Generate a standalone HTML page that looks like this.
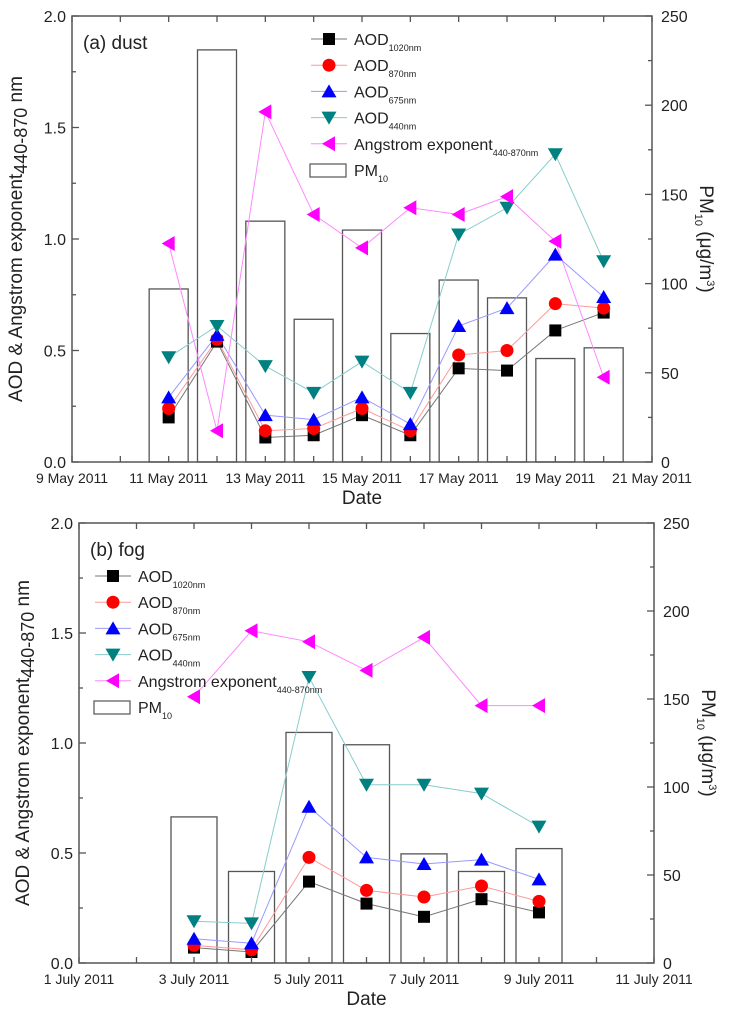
<!DOCTYPE html>
<html><head><meta charset="utf-8"><style>
body{margin:0;background:#fff;}
svg text{font-family:"Liberation Sans",Arial,sans-serif;fill:#222;}
</style></head><body>
<svg id="chart" width="730" height="1024" xmlns="http://www.w3.org/2000/svg"></svg>
<script>
// Panel (a) dust data
const dustDays = [11,12,13,14,15,16,17,18,19,20];
const dustAOD1020 = [0.20,0.54,0.11,0.12,0.21,0.12,0.42,0.41,0.59,0.67];
const dustAOD870 = [0.24,0.55,0.14,0.15,0.24,0.14,0.48,0.50,0.71,0.69];
const dustAOD675 = [0.29,0.57,0.21,0.19,0.29,0.17,0.61,0.69,0.93,0.74];
const dustAOD440 = [0.47,0.61,0.43,0.31,0.45,0.31,1.02,1.14,1.38,0.90];
const dustAngstrom = [0.98,0.14,1.57,1.11,0.96,1.14,1.11,1.19,0.99,0.38];
const dustPM10 = [97,231,135,80,130,72,102,92,58,64];
const dustTickLabels = ["9 May 2011","11 May 2011","13 May 2011","15 May 2011","17 May 2011","19 May 2011","21 May 2011"];
// Panel (b) fog data
const fogDays = [3,4,5,6,7,8,9];
const fogAOD1020 = [0.07,0.05,0.37,0.27,0.21,0.29,0.23];
const fogAOD870 = [0.08,0.06,0.48,0.33,0.30,0.35,0.28];
const fogAOD675 = [0.11,0.09,0.71,0.48,0.45,0.47,0.38];
const fogAOD440 = [0.19,0.18,1.30,0.81,0.81,0.77,0.62];
const fogAngstrom = [1.21,1.51,1.46,1.33,1.48,1.17,1.17];
const fogPM10 = [83,52,131,124,62,52,65];
const fogTickLabels = ["1 July 2011","3 July 2011","5 July 2011","7 July 2011","9 July 2011","11 July 2011"];
const leftTicks = ["0.0","0.5","1.0","1.5","2.0"];
const rightTicks = ["0","50","100","150","200","250"];

const NS="http://www.w3.org/2000/svg";
const svg=document.getElementById('chart');
function mk(tag,attrs,parent){const e=document.createElementNS(NS,tag);for(const k in attrs)e.setAttribute(k,attrs[k]);(parent||svg).appendChild(e);return e;}

function marker(g,type,x,y,color){
  const s=6;
  let e;
  if(type==='sq') e=mk('rect',{x:x-s,y:y-s,width:2*s,height:2*s,fill:color},g);
  else if(type==='ci') e=mk('circle',{cx:x,cy:y,r:6.5,fill:color},g);
  else if(type==='up') e=mk('polygon',{points:`${x},${y-7} ${x-7.5},${y+6} ${x+7.5},${y+6}`,fill:color},g);
  else if(type==='dn') e=mk('polygon',{points:`${x},${y+7} ${x-7.5},${y-6} ${x+7.5},${y-6}`,fill:color},g);
  else e=mk('polygon',{points:`${x-7},${y} ${x+6},${y-7.5} ${x+6},${y+7.5}`,fill:color},g);
  return e;
}

function panel(p){
  const {x0,x1,y0,y1,d0,d1,days,series,pm,ticks,barW,name,title,legend}=p;
  const g=mk('g',{});
  
  
  const X=d=>x0+(d-d0)/(d1-d0)*(x1-x0);
  const Y=v=>y1-v/2*(y1-y0);
  const YR=v=>y1-v/250*(y1-y0);
  pm.forEach((v,i)=>{
    const b=mk('rect',{x:X(days[i])-barW/2,y:YR(v),width:barW,height:y1-YR(v),fill:'none',stroke:'#555','stroke-width':1.3},g);
    
    
  });
  series.forEach(s=>{
    const pts=s.vals.map((v,i)=>X(days[i])+','+Y(v)).join(' ');
    const l=mk('polyline',{points:pts,fill:'none',stroke:s.line,'stroke-width':1},g);
    
    
  });
  series.forEach(s=>{
    s.vals.forEach((v,i)=>{
      const m=marker(g,s.m,X(days[i]),Y(v),s.color);
      
      
    });
  });
  mk('rect',{x:x0,y:y0,width:x1-x0,height:y1-y0,fill:'none',stroke:'#555','stroke-width':1.5},g);
  const nd=d1-d0;
  for(let d=0;d<=nd;d++){
    const xx=X(d0+d);
    mk('line',{x1:xx,x2:xx,y1:y1,y2:y1-6,stroke:'#555','stroke-width':1.3},g);
    mk('line',{x1:xx,x2:xx,y1:y0,y2:y0+6,stroke:'#555','stroke-width':1.3},g);
  }
  ticks.forEach((t,i)=>{
    const tx=mk('text',{x:X(d0+i*2),y:y1+21,'font-size':14,'text-anchor':'middle'},g);tx.textContent=t;
    
    
  });
  for(let k=0;k<=8;k++){
    const yy=y1-k/8*(y1-y0);
    const len=k%2===0?7:4;
    mk('line',{x1:x0,x2:x0+len,y1:yy,y2:yy,stroke:'#555','stroke-width':1.3},g);
  }
  leftTicks.forEach((t,i)=>{
    const tx=mk('text',{x:x0-6,y:Y(i*0.5)+6,'font-size':16,'text-anchor':'end'},g);tx.textContent=t;
    
    
  });
  for(let k=0;k<=10;k++){
    const yy=y1-k/10*(y1-y0);
    const len=k%2===0?7:4;
    mk('line',{x1:x1,x2:x1-len,y1:yy,y2:yy,stroke:'#555','stroke-width':1.3},g);
  }
  rightTicks.forEach((t,i)=>{
    const tx=mk('text',{x:x1+9,y:YR(i*50)+6,'font-size':16},g);tx.textContent=t;
    
    
  });
  const cy=(y0+y1)/2;
  const lt=mk('text',{x:0,y:0,'font-size':19,'text-anchor':'middle',transform:`translate(${x0-50},${cy}) rotate(-90)`},g);
  lt.innerHTML='AOD &amp; Angstrom exponent<tspan font-size="18" dy="5">440-870</tspan><tspan dy="-5"> nm</tspan>';
  
  
  const rt=mk('text',{x:0,y:0,'font-size':19,'text-anchor':'middle',transform:`translate(${x1+48},${cy}) rotate(90)`},g);
  rt.innerHTML='PM<tspan font-size="11" dy="5">10</tspan><tspan dy="-5"> (μg/m</tspan><tspan font-size="11" dy="-7">3</tspan><tspan dy="7">)</tspan>';
  
  
  const xt=mk('text',{x:(x0+x1)/2,y:y1+42,'font-size':19,'text-anchor':'middle'},g);xt.textContent='Date';
  
  
  const pt=mk('text',{x:x0+11,y:y0+33,'font-size':19},g);pt.textContent=title;
  
  
  const {lx,ly,dy}=legend;
  const lg=mk('g',{},g);
  
  
  series.forEach((s,i)=>{
    const yy=ly+i*dy;
    mk('line',{x1:lx,x2:lx+36,y1:yy,y2:yy,stroke:s.line,'stroke-width':1},lg);
    marker(lg,s.m,lx+18,yy,s.color);
    const t=mk('text',{x:lx+43,y:yy+6,'font-size':16},lg);
    t.innerHTML=s.label+'<tspan font-size="9" dy="6">'+s.sub+'</tspan>';
    
    
  });
  const yy=ly+5*dy;
  mk('rect',{x:lx-1,y:yy-6,width:36,height:13,fill:'none',stroke:'#555','stroke-width':1.2},lg);
  const t=mk('text',{x:lx+43,y:yy+6,'font-size':16},lg);
  t.innerHTML='PM<tspan font-size="9" dy="6">10</tspan>';
  
  
}

function mkSeries(a,b,c,d,e){
  return [
    {id:'aod1020',label:'AOD',sub:'1020nm',vals:a,m:'sq',color:'#000',line:'#777'},
    {id:'aod870',label:'AOD',sub:'870nm',vals:b,m:'ci',color:'#f00',line:'#f99'},
    {id:'aod675',label:'AOD',sub:'675nm',vals:c,m:'up',color:'#00f',line:'#99f'},
    {id:'aod440',label:'AOD',sub:'440nm',vals:d,m:'dn',color:'#008080',line:'#8cc'},
    {id:'angstrom',label:'Angstrom exponent',sub:'440-870nm',vals:e,m:'lt',color:'#f0f',line:'#f8f'}
  ];
}

panel({x0:72,x1:652,y0:16,y1:462,d0:9,d1:21,days:dustDays,
  series:mkSeries(dustAOD1020,dustAOD870,dustAOD675,dustAOD440,dustAngstrom),
  pm:dustPM10,ticks:dustTickLabels,barW:39,name:'panel-dust',title:'(a) dust',
  legend:{lx:311,ly:39,dy:26.2}});
panel({x0:79,x1:654,y0:523,y1:963,d0:1,d1:11,days:fogDays,
  series:mkSeries(fogAOD1020,fogAOD870,fogAOD675,fogAOD440,fogAngstrom),
  pm:fogPM10,ticks:fogTickLabels,barW:46,name:'panel-fog',title:'(b) fog',
  legend:{lx:95,ly:576,dy:26.2}});
</script>
</body></html>
